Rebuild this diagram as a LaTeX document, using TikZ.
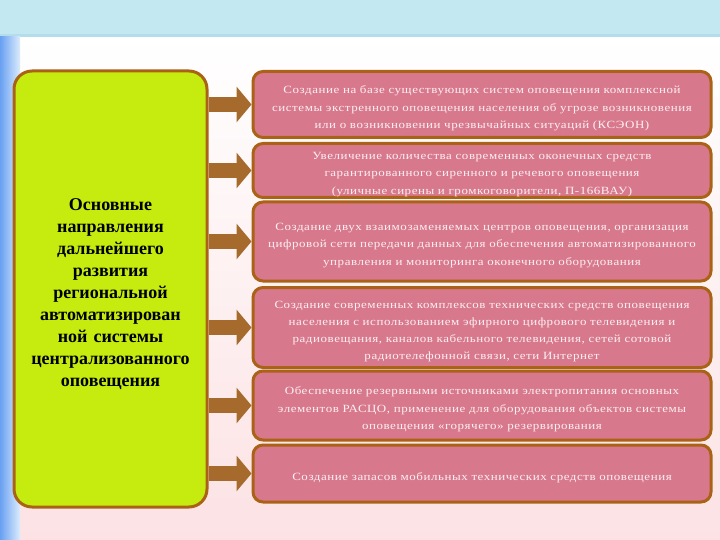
\documentclass[tikz,border=0pt]{standalone}
\usepackage{fontspec}
\setmainfont{Liberation Serif}
\newfontfamily\pinkfont[LetterSpace=5,FakeStretch=1.18]{Liberation Serif}
\usetikzlibrary{arrows.meta,backgrounds}
\definecolor{topband}{RGB}{196,232,242}
\definecolor{topline}{RGB}{178,222,236}
\definecolor{stripL}{RGB}{104,160,242}
\definecolor{stripR}{RGB}{220,236,252}
\definecolor{bgpink}{RGB}{252,226,228}
\definecolor{greenfill}{RGB}{197,236,14}
\definecolor{brownline}{RGB}{170,98,22}
\definecolor{pinkfill}{RGB}{216,120,140}
\definecolor{pinktext}{RGB}{252,240,242}
\definecolor{arrowcol}{RGB}{166,106,44}
\tikzset{
  mainbox/.style={draw=brownline, line width=3pt, fill=greenfill, rounded corners=18pt,
    minimum width=193pt, minimum height=436pt, inner sep=0pt},
  maintext/.style={text width=190pt, align=center,
    font=\fontsize{18}{22}\selectfont\bfseries, text=black, inner sep=0pt},
  itembox/.style={draw=brownline, line width=3pt, fill=pinkfill, rounded corners=10pt,
    minimum width=458pt, inner sep=0pt},
  itemtext/.style={text width=452pt, align=center,
    font=\pinkfont\fontsize{11}{17.3}\selectfont, text=pinktext, inner sep=0pt},
  blockarrow/.style={draw=arrowcol, line width=15pt, -{Triangle[length=15pt,width=35pt]}}
}
\begin{document}
\begin{tikzpicture}[x=1pt,y=-1pt]
\useasboundingbox (0,0) rectangle (720,540);
\node[mainbox] (g) at (110.5,289) {};
\node[maintext] (gtext) at ([shift={(0,5)}]g.center) {Основные\\направления\\дальнейшего\\развития\\региональной\\автоматизирован\\ной системы\\централизованного\\оповещения};
\node[itembox, minimum height=66pt] (b1) at (482,104.5) {};
\node[itembox, minimum height=54pt] (b2) at (482,170.5) {};
\node[itembox, minimum height=79pt] (b3) at (482,241.5) {};
\node[itembox, minimum height=80pt] (b4) at (482,327.5) {};
\node[itembox, minimum height=69pt] (b5) at (482,405.5) {};
\node[itembox, minimum height=57pt] (b6) at (482,473.5) {};
\node[itemtext] (t1) at ([shift={(0,4)}]b1.center) {Создание на базе существующих систем оповещения комплексной\\системы экстренного оповещения населения об угрозе возникновения\\или о возникновении чрезвычайных ситуаций (КСЭОН)};
\node[itemtext] (t2) at ([shift={(0,4)}]b2.center) {Увеличение количества современных оконечных средств\\гарантированного сиренного и речевого оповещения\\(уличные сирены и громкоговорители, П-166ВАУ)};
\node[itemtext] (t3) at ([shift={(0,4)}]b3.center) {Создание двух взаимозаменяемых центров оповещения, организация\\цифровой сети передачи данных для обеспечения автоматизированного\\управления и мониторинга оконечного оборудования};
\node[itemtext] (t4) at ([shift={(0,4)}]b4.center) {Создание современных комплексов технических средств оповещения\\населения с использованием эфирного цифрового телевидения и\\радиовещания, каналов кабельного телевидения, сетей сотовой\\радиотелефонной связи, сети Интернет};
\node[itemtext] (t5) at ([shift={(0,4)}]b5.center) {Обеспечение резервными источниками электропитания основных\\элементов РАСЦО, применение для оборудования объектов системы\\оповещения «горячего» резервирования};
\node[itemtext] (t6) at ([shift={(0,4)}]b6.center) {Создание запасов мобильных технических средств оповещения};
\begin{scope}[on background layer]
  \fill[top color=white, bottom color=bgpink] (0,36) rectangle (720,540);
  \fill[topband] (0,0) rectangle (720,36);
  \fill[topline] (0,34) rectangle (720,37);
  \fill[left color=stripL, right color=stripR] (0,37) rectangle (20,540);
  \foreach \b in {b1,b2,b3,b4,b5,b6}
    \draw[blockarrow] (g.east |- \b.west) -- (\b.west);
\end{scope}
\end{tikzpicture}
\end{document}
